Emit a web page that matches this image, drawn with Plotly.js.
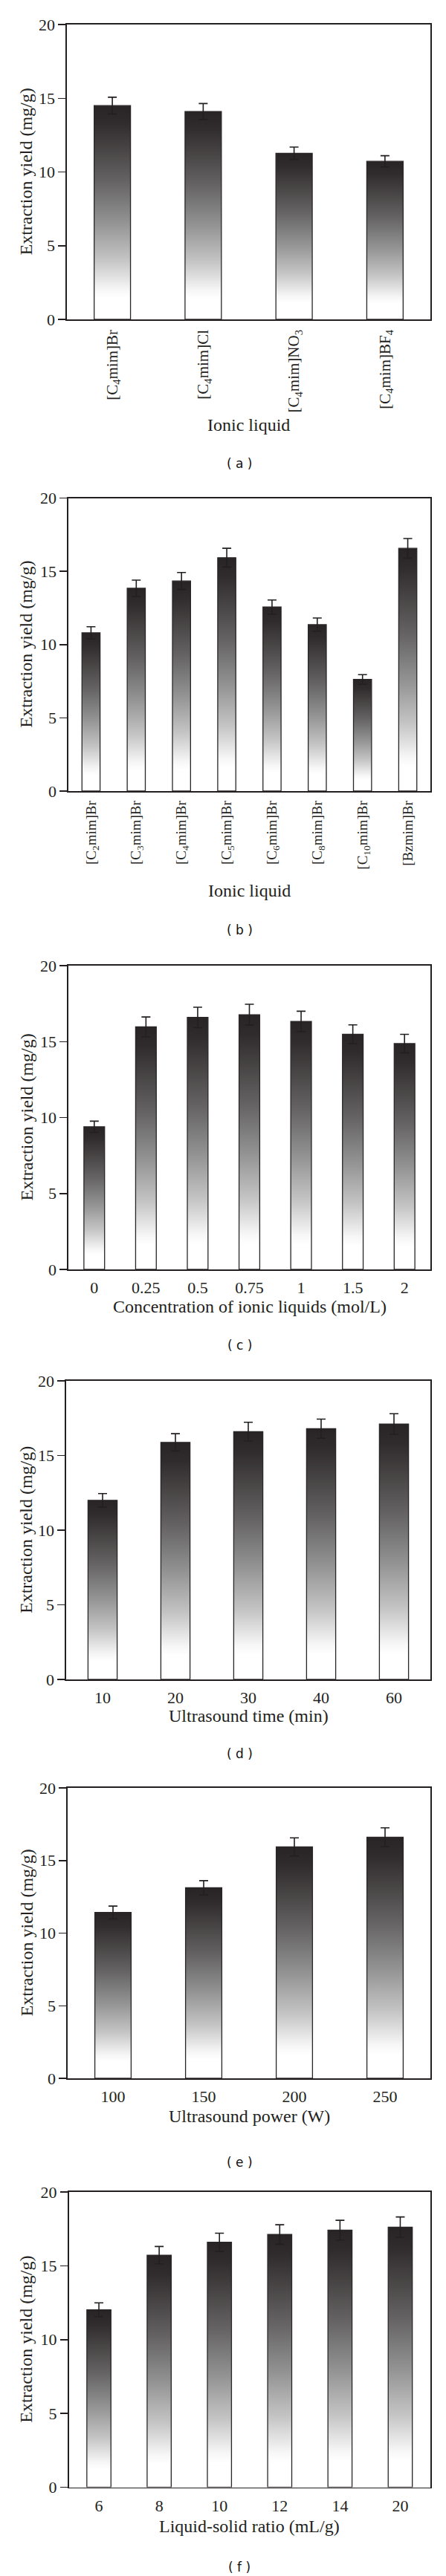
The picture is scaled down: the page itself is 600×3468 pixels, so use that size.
<!DOCTYPE html>
<html>
<head>
<meta charset="utf-8">
<script src="https://cdn.plot.ly/plotly-3.0.1.min.js"></script>
<style>
html,body{margin:0;padding:0;background:#fff;}
#chart{width:600px;height:3468px;}
</style>
</head>
<body>
<div id="chart"></div>
<script>
// ---------- data ----------
const catsA = ['[C<sub>4</sub>mim]Br', '[C<sub>4</sub>mim]Cl', '[C<sub>4</sub>mim]NO<sub>3</sub>', '[C<sub>4</sub>mim]BF<sub>4</sub>'];
const yieldA = [14.5, 14.1, 11.27, 10.72];
const errA = [0.57, 0.54, 0.42, 0.38];

const catsB = ['[C<sub>2</sub>mim]Br', '[C<sub>3</sub>mim]Br', '[C<sub>4</sub>mim]Br', '[C<sub>5</sub>mim]Br', '[C<sub>6</sub>mim]Br', '[C<sub>8</sub>mim]Br', '[C<sub>10</sub>mim]Br', '[Bzmim]Br'];
const yieldB = [10.8, 13.84, 14.34, 15.93, 12.56, 11.36, 7.62, 16.57];
const errB = [0.42, 0.56, 0.58, 0.64, 0.48, 0.45, 0.33, 0.67];

const catsC = ['0', '0.25', '0.5', '0.75', '1', '1.5', '2'];
const yieldC = [9.39, 15.97, 16.59, 16.77, 16.33, 15.48, 14.87];
const errC = [0.37, 0.65, 0.67, 0.69, 0.67, 0.62, 0.61];

const catsD = ['10', '20', '30', '40', '60'];
const yieldD = [12.0, 15.88, 16.6, 16.8, 17.11];
const errD = [0.45, 0.58, 0.63, 0.64, 0.69];

const catsE = ['100', '150', '200', '250'];
const yieldE = [11.42, 13.12, 15.94, 16.6];
const errE = [0.44, 0.49, 0.62, 0.65];

const catsF = ['6', '8', '10', '12', '14', '20'];
const yieldF = [12.02, 15.72, 16.59, 17.12, 17.41, 17.62];
const errF = [0.47, 0.59, 0.62, 0.66, 0.67, 0.69];

const yTitle = 'Extraction yield (mg/g)';
const xTitles = ['Ionic liquid', 'Ionic liquid', 'Concentration of ionic liquids (mol/L)', 'Ultrasound time (min)', 'Ultrasound power (W)', 'Liquid-solid ratio (mL/g)'];
const panelLabels = ['( a )', '( b )', '( c )', '( d )', '( e )', '( f )'];

// ---------- layout geometry (pixels) ----------
const W = 600, H = 3468;
const boxes = [
  {l: 90, r: 579, t: 33, b: 430},
  {l: 92, r: 579, t: 670.5, b: 1065},
  {l: 92, r: 579, t: 1300, b: 1709},
  {l: 89, r: 579, t: 1859, b: 2261},
  {l: 91, r: 579, t: 2407, b: 2798},
  {l: 92.5, r: 579, t: 2951, b: 3348.5}
];
const xTitleY = [572, 1199, 1759, 2310, 2849, 3401];
const labelY = [624, 1252, 1811, 2361, 2911, 3456];
const tickAngles = [-90, -90, 0, 0, 0, 0];
const xTickSizes = [21, 19, 22, 22, 22, 22];

const series = [
  [catsA, yieldA, errA],
  [catsB, yieldB, errB],
  [catsC, yieldC, errC],
  [catsD, yieldD, errD],
  [catsE, yieldE, errE],
  [catsF, yieldF, errF]
];

const ink = '#231f20';
const serif = 'Liberation Serif, Times New Roman, serif';

const traces = [];
const layout = {
  width: W, height: H,
  margin: {l: 0, r: 0, t: 0, b: 0},
  paper_bgcolor: '#fff', plot_bgcolor: '#fff',
  showlegend: false,
  font: {family: serif, color: ink, size: 22},
  annotations: []
};

series.forEach((s, i) => {
  const n = i === 0 ? '' : String(i + 1);
  const bx = boxes[i];
  traces.push({
    type: 'bar',
    x: s[0], y: s[1],
    xaxis: 'x' + n, yaxis: 'y' + n,
    width: 0.4,
    marker: {color: '#555', line: {color: '#2a2627', width: 1.3}},
    error_y: {type: 'data', array: s[2], visible: true, color: ink, thickness: 1.6, width: 6},
    hoverinfo: 'skip'
  });
  layout['xaxis' + n] = {
    domain: [bx.l / W, bx.r / W],
    anchor: 'y' + n,
    type: 'category',
    range: [-0.5, s[0].length - 0.5],
    showline: true, mirror: true, linecolor: ink, linewidth: 1.6,
    ticks: '', showgrid: false, zeroline: false,
    tickangle: tickAngles[i],
    tickfont: {family: serif, size: xTickSizes[i], color: ink},
    ticklabelstandoff: 4,
    fixedrange: true
  };
  layout['yaxis' + n] = {
    domain: [1 - bx.b / H, 1 - bx.t / H],
    anchor: 'x' + n,
    range: [0, 20], dtick: 5, tick0: 0,
    showline: true, mirror: true, linecolor: ink, linewidth: 1.6,
    ticks: 'outside', ticklen: 10, tickwidth: 1.5, tickcolor: ink,
    showgrid: false, zeroline: false,
    tickfont: {family: serif, size: 22, color: ink},
    fixedrange: true
  };
  // y title
  layout.annotations.push({
    text: yTitle, textangle: -90,
    xref: 'paper', yref: 'paper',
    x: 35 / W, y: 1 - (bx.t + bx.b) / 2 / H,
    xanchor: 'center', yanchor: 'middle', showarrow: false,
    font: {family: serif, size: 24, color: ink}
  });
  // x title
  layout.annotations.push({
    text: xTitles[i],
    xref: 'paper', yref: 'paper',
    x: (bx.l + bx.r) / 2 / W, y: 1 - xTitleY[i] / H,
    xanchor: 'center', yanchor: 'middle', showarrow: false,
    font: {family: serif, size: 24, color: ink}
  });
  // panel label
  layout.annotations.push({
    text: panelLabels[i],
    xref: 'paper', yref: 'paper',
    x: 322 / W, y: 1 - labelY[i] / H,
    xanchor: 'center', yanchor: 'middle', showarrow: false,
    font: {family: 'DejaVu Sans, Verdana, sans-serif', size: 17, color: '#111'}
  });
});

Plotly.newPlot('chart', traces, layout, {staticPlot: true, displayModeBar: false}).then(gd => {
  // vertical gradient fill for every bar drawn by Plotly
  const svgNS = 'http://www.w3.org/2000/svg';
  const svg = gd.querySelector('svg.main-svg');
  let defs = svg.querySelector('defs');
  if (!defs) { defs = document.createElementNS(svgNS, 'defs'); svg.insertBefore(defs, svg.firstChild); }
  const grad = document.createElementNS(svgNS, 'linearGradient');
  grad.setAttribute('id', 'barGrad');
  grad.setAttribute('x1', '0'); grad.setAttribute('y1', '0');
  grad.setAttribute('x2', '0'); grad.setAttribute('y2', '1');
  const stops = [[0, '#282425'], [0.08, '#302c2d'], [0.35, '#646262'], [0.55, '#949494'], [0.72, '#c4c4c4'], [0.86, '#f6f6f6'], [0.9, '#ffffff'], [1, '#ffffff']];
  stops.forEach(([o, c]) => {
    const st = document.createElementNS(svgNS, 'stop');
    st.setAttribute('offset', o);
    st.setAttribute('stop-color', c);
    grad.appendChild(st);
  });
  defs.appendChild(grad);
  gd.querySelectorAll('.barlayer .point path').forEach(p => {
    p.style.fill = 'url(#barGrad)';
  });
});
</script>
</body>
</html>
